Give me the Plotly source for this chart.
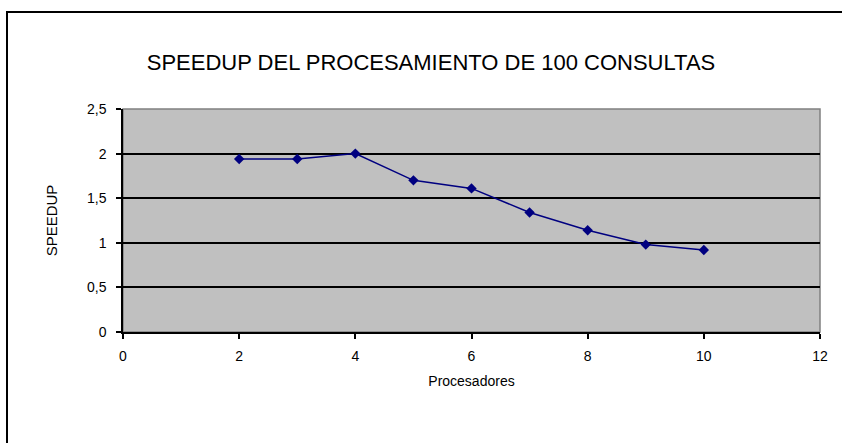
import plotly.graph_objects as go

# Speedup measured for each processor count
procesadores = [2, 3, 4, 5, 6, 7, 8, 9, 10]
speedup = [1.94, 1.94, 2.00, 1.70, 1.61, 1.34, 1.14, 0.98, 0.92]

x_ticks = [0, 2, 4, 6, 8, 10, 12]
y_ticks = [0, 0.5, 1, 1.5, 2, 2.5]

titulo = "SPEEDUP DEL PROCESAMIENTO DE 100 CONSULTAS"
titulo_x = "Procesadores"
titulo_y = "SPEEDUP"

navy = "#000080"
font_family = "Liberation Sans, Arial, sans-serif"

fig = go.Figure(
    go.Scatter(
        x=procesadores,
        y=speedup,
        mode="lines+markers",
        line=dict(color=navy, width=1.5),
        marker=dict(symbol="diamond", size=8, color=navy),
        showlegend=False,
    )
)

# plot area spans 123..820 px horizontally and 109..332 px vertically
L, R, T, B = 123, 22, 109, 111
W, H = 842 - L - R, 443 - T - B


def px_x(px):
    return (px - L) / W


def px_y(py):
    return (443 - B - py) / H


fig.update_layout(
    width=842,
    height=443,
    margin=dict(l=L, r=R, t=T, b=B),
    paper_bgcolor="white",
    plot_bgcolor="#c0c0c0",
    separators=", ",
    font=dict(family=font_family, size=14, color="black"),
    title=dict(
        text=titulo,
        x=431 / 842,
        xref="container",
        xanchor="center",
        y=1 - 62 / 443,
        yref="container",
        yanchor="middle",
        font=dict(family=font_family, size=22, color="black"),
    ),
    xaxis=dict(
        range=[0, 12],
        tickvals=x_ticks,
        showgrid=False,
        zeroline=False,
        showline=True,
        linecolor="black",
        linewidth=1.5,
        ticks="outside",
        ticklen=5,
        tickcolor="black",
        tickwidth=1.5,
        tickfont=dict(size=14),
        ticklabelstandoff=5,
        title=dict(text=titulo_x, font=dict(size=14), standoff=14),
    ),
    yaxis=dict(
        range=[0, 2.5],
        tickvals=y_ticks,
        showgrid=True,
        gridcolor="black",
        gridwidth=1.5,
        zeroline=False,
        showline=True,
        linecolor="black",
        linewidth=1.5,
        ticks="outside",
        ticklen=5,
        tickcolor="black",
        tickwidth=1.5,
        tickfont=dict(size=14),
        ticklabelstandoff=7,
        title=dict(text=titulo_y, font=dict(size=15), standoff=26),
    ),
    shapes=[
        # light frame of the plot area
        dict(
            type="rect", xref="paper", yref="paper",
            x0=0, x1=1, y0=0, y1=1,
            line=dict(color="#808080", width=1.5),
            layer="below",
        ),
        # outer chart frame
        dict(
            type="rect", xref="paper", yref="paper",
            x0=px_x(7), x1=px_x(860), y0=px_y(460), y1=px_y(12),
            line=dict(color="black", width=2),
        ),
    ],
)

fig.write_html("out.html")
